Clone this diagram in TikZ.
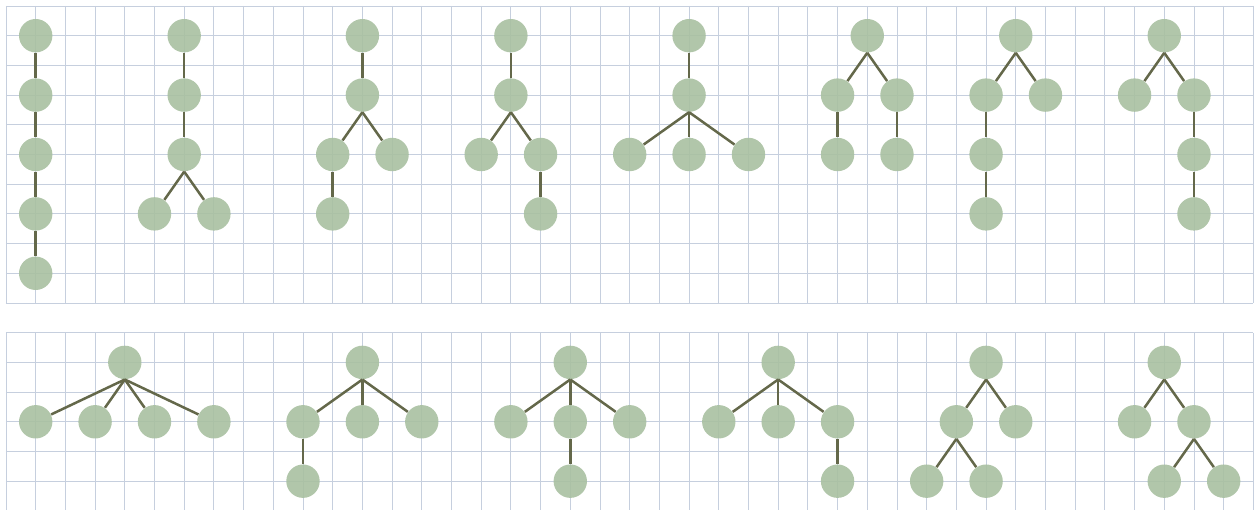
\documentclass[tikz,border=0pt]{standalone}
\usetikzlibrary{positioning}

\definecolor{vertgreen}{RGB}{169,192,161}
\definecolor{edgeolive}{RGB}{100,104,74}
\definecolor{gridblue}{RGB}{198,207,222}

\begin{document}
\begin{tikzpicture}[
  x=0.5cm, y=0.5cm,
  vert/.style={circle, fill=vertgreen, fill opacity=0.9, minimum size=0.5625cm, inner sep=0pt},
  edge/.style={draw=edgeolive, line width=1.2pt},
  gridln/.style={draw=gridblue, line width=0.45pt}
]
\useasboundingbox (-0.202,0.202) rectangle (42.19,-16.97);

% squared paper, upper and lower panel
\foreach \x in {0,...,42} \draw[gridln] (\x,0) -- (\x,-10);
\foreach \y in {0,...,10} \draw[gridln] (0,-\y) -- (42,-\y);
\foreach \x in {0,...,42} \draw[gridln] (\x,-11) -- (\x,-17.2);
\foreach \y in {11,...,16} \draw[gridln] (0,-\y) -- (42,-\y);

% upper row of trees
\node[vert] (a1) at (1,-1) {};
\node[vert] (a2) at (1,-3) {};
\node[vert] (a3) at (1,-5) {};
\node[vert] (a4) at (1,-7) {};
\node[vert] (a5) at (1,-9) {};

\node[vert] (b1) at (6,-1) {};
\node[vert] (b2) at (6,-3) {};
\node[vert] (b3) at (6,-5) {};
\node[vert] (b4) at (5,-7) {};
\node[vert] (b5) at (7,-7) {};

\node[vert] (c1) at (12,-1) {};
\node[vert] (c2) at (12,-3) {};
\node[vert] (c3) at (11,-5) {};
\node[vert] (c4) at (13,-5) {};
\node[vert] (c5) at (11,-7) {};

\node[vert] (d1) at (17,-1) {};
\node[vert] (d2) at (17,-3) {};
\node[vert] (d3) at (16,-5) {};
\node[vert] (d4) at (18,-5) {};
\node[vert] (d5) at (18,-7) {};

\node[vert] (e1) at (23,-1) {};
\node[vert] (e2) at (23,-3) {};
\node[vert] (e3) at (21,-5) {};
\node[vert] (e4) at (23,-5) {};
\node[vert] (e5) at (25,-5) {};

\node[vert] (f1) at (29,-1) {};
\node[vert] (f2) at (28,-3) {};
\node[vert] (f3) at (30,-3) {};
\node[vert] (f4) at (28,-5) {};
\node[vert] (f5) at (30,-5) {};

\node[vert] (g1) at (34,-1) {};
\node[vert] (g2) at (33,-3) {};
\node[vert] (g3) at (35,-3) {};
\node[vert] (g4) at (33,-5) {};
\node[vert] (g5) at (33,-7) {};

\node[vert] (h1) at (39,-1) {};
\node[vert] (h2) at (38,-3) {};
\node[vert] (h3) at (40,-3) {};
\node[vert] (h4) at (40,-5) {};
\node[vert] (h5) at (40,-7) {};

% lower row of trees
\node[vert] (i1) at (4,-12) {};
\node[vert] (i2) at (1,-14) {};
\node[vert] (i3) at (3,-14) {};
\node[vert] (i4) at (5,-14) {};
\node[vert] (i5) at (7,-14) {};

\node[vert] (j1) at (12,-12) {};
\node[vert] (j2) at (10,-14) {};
\node[vert] (j3) at (12,-14) {};
\node[vert] (j4) at (14,-14) {};
\node[vert] (j5) at (10,-16) {};

\node[vert] (k1) at (19,-12) {};
\node[vert] (k2) at (17,-14) {};
\node[vert] (k3) at (19,-14) {};
\node[vert] (k4) at (21,-14) {};
\node[vert] (k5) at (19,-16) {};

\node[vert] (l1) at (26,-12) {};
\node[vert] (l2) at (24,-14) {};
\node[vert] (l3) at (26,-14) {};
\node[vert] (l4) at (28,-14) {};
\node[vert] (l5) at (28,-16) {};

\node[vert] (m1) at (33,-12) {};
\node[vert] (m2) at (32,-14) {};
\node[vert] (m3) at (34,-14) {};
\node[vert] (m4) at (31,-16) {};
\node[vert] (m5) at (33,-16) {};

\node[vert] (n1) at (39,-12) {};
\node[vert] (n2) at (38,-14) {};
\node[vert] (n3) at (40,-14) {};
\node[vert] (n4) at (39,-16) {};
\node[vert] (n5) at (41,-16) {};

% edges, parent to child
\foreach \p/\c in {a1/a2, a2/a3, a3/a4, a4/a5,
                   b1/b2, b2/b3, b3/b4, b3/b5,
                   c1/c2, c2/c3, c2/c4, c3/c5,
                   d1/d2, d2/d3, d2/d4, d4/d5,
                   e1/e2, e2/e3, e2/e4, e2/e5,
                   f1/f2, f1/f3, f2/f4, f3/f5,
                   g1/g2, g1/g3, g2/g4, g4/g5,
                   h1/h2, h1/h3, h3/h4, h4/h5,
                   i1/i2, i1/i3, i1/i4, i1/i5,
                   j1/j2, j1/j3, j1/j4, j2/j5,
                   k1/k2, k1/k3, k1/k4, k3/k5,
                   l1/l2, l1/l3, l1/l4, l4/l5,
                   m1/m2, m1/m3, m2/m4, m2/m5,
                   n1/n2, n1/n3, n3/n4, n3/n5}
  \draw[edge] (\p.south) -- (\c);

\end{tikzpicture}
\end{document}
